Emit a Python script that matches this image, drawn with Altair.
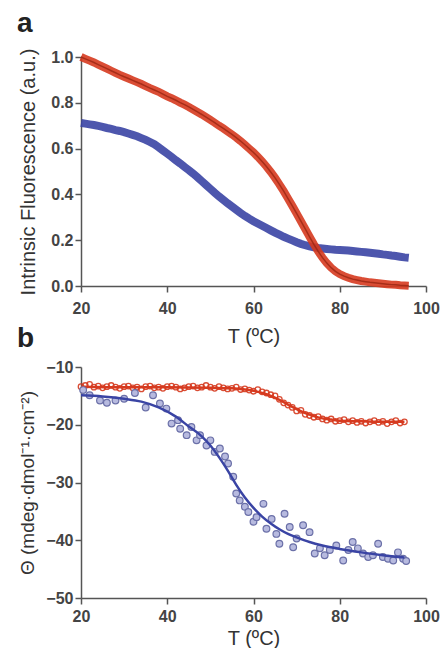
import altair as alt
import pandas as pd

# ---------------- Panel a: intrinsic fluorescence ----------------
temp_a = list(range(20, 97))
fluor_red = [1.000, 0.992, 0.984, 0.976, 0.967, 0.958, 0.949, 0.940, 0.931, 0.922,
             0.914, 0.906, 0.898, 0.890, 0.882, 0.873, 0.864, 0.856, 0.848, 0.838,
             0.828, 0.820, 0.811, 0.801, 0.792, 0.782, 0.771, 0.760, 0.749, 0.737,
             0.725, 0.713, 0.700, 0.688, 0.675, 0.662, 0.648, 0.633, 0.617, 0.600,
             0.583, 0.564, 0.544, 0.522, 0.498, 0.472, 0.444, 0.414, 0.382, 0.350,
             0.317, 0.283, 0.249, 0.215, 0.182, 0.151, 0.124, 0.100, 0.080, 0.064,
             0.052, 0.043, 0.036, 0.030, 0.026, 0.022, 0.019, 0.016, 0.014, 0.012,
             0.010, 0.008, 0.006, 0.005, 0.003, 0.002, 0.001]
fluor_blue = [0.712, 0.709, 0.706, 0.703, 0.699, 0.695, 0.690, 0.686, 0.681, 0.677,
              0.672, 0.666, 0.660, 0.654, 0.646, 0.638, 0.629, 0.619, 0.606, 0.592,
              0.578, 0.564, 0.549, 0.535, 0.520, 0.506, 0.491, 0.475, 0.458, 0.441,
              0.424, 0.407, 0.391, 0.376, 0.361, 0.347, 0.333, 0.319, 0.306, 0.294,
              0.283, 0.273, 0.263, 0.253, 0.243, 0.233, 0.224, 0.215, 0.207, 0.199,
              0.191, 0.184, 0.178, 0.173, 0.169, 0.166, 0.164, 0.162, 0.160, 0.158,
              0.157, 0.156, 0.155, 0.153, 0.151, 0.149, 0.147, 0.145, 0.143, 0.141,
              0.138, 0.136, 0.133, 0.131, 0.128, 0.125, 0.123]

# ---------------- Panel b: CD ellipticity ----------------
temp_b_red = list(range(20, 96))
cd_red = [-13.4, -13.2, -13.0, -13.5, -13.3, -13.6, -13.4, -13.2, -13.5, -13.7,
          -13.4, -13.3, -13.6, -13.5, -13.8, -13.4, -13.3, -13.6, -13.5, -13.7,
          -13.4, -13.3, -13.5, -13.8, -13.6, -13.4, -13.3, -13.6, -13.5, -13.2,
          -13.5, -13.7, -13.4, -13.6, -13.8, -13.7, -13.5, -13.9, -13.8, -14.0,
          -14.2, -13.9, -14.3, -14.5, -14.8, -15.0, -15.6, -16.2, -16.6, -17.0,
          -17.6, -17.5, -18.2, -18.4, -18.7, -18.6, -19.0, -19.2, -19.0, -19.4,
          -19.3, -19.1, -19.5, -19.3, -19.6, -19.4, -19.7, -19.5, -19.3, -19.6,
          -19.4, -19.8, -19.5, -19.3, -19.7, -19.5]
fit_red_t = [20, 30, 40, 50, 55, 58, 60, 62, 64, 66, 68, 70, 72, 74, 76, 78, 80, 85, 90, 95]
fit_red_v = [-13.4, -13.5, -13.5, -13.6, -13.7, -13.9, -14.1, -14.5, -15.0, -15.7,
             -16.5, -17.3, -18.0, -18.5, -18.9, -19.1, -19.3, -19.4, -19.5, -19.5]

temp_b_blue = [20.5, 22.0, 24.4, 26.0, 28.0, 30.0, 32.5, 35.0, 36.7, 38.3,
               39.8, 41.0, 42.5, 43.0, 44.5, 45.6, 46.8, 47.6, 49.1, 50.0,
               51.0, 52.2, 53.4, 54.1, 55.3, 56.0, 56.8, 58.0, 58.8, 60.0,
               60.7, 62.3, 63.0, 64.2, 65.3, 66.0, 67.2, 68.4, 69.2, 70.0,
               71.5, 73.0, 74.2, 75.4, 76.5, 77.7, 79.2, 80.8, 82.0, 83.0,
               84.2, 85.4, 86.6, 87.7, 88.9, 90.0, 91.2, 92.4, 93.5, 94.7, 95.4]
cd_blue = [-14.0, -14.9, -15.8, -16.2, -15.8, -15.5, -14.5, -17.0, -14.9, -16.3,
           -17.2, -19.8, -19.2, -20.7, -21.8, -20.4, -22.7, -21.8, -23.6, -22.7,
           -24.7, -24.1, -25.5, -26.7, -29.0, -31.9, -33.1, -34.2, -35.1, -36.8,
           -36.0, -33.7, -38.0, -36.3, -38.9, -40.6, -35.4, -37.7, -41.2, -39.7,
           -37.4, -38.6, -42.3, -41.4, -42.6, -41.7, -40.9, -43.5, -41.7, -40.3,
           -41.4, -42.3, -42.9, -42.6, -40.6, -42.9, -43.2, -43.5, -42.1, -43.2, -43.6]
fit_blue_t = [20, 25, 30, 34, 38, 42, 45, 48, 50, 52, 54, 56, 58, 60, 62, 64, 66,
              68, 70, 73, 76, 80, 85, 90, 95]
fit_blue_v = [-14.9, -15.1, -15.5, -16.0, -17.0, -18.6, -20.3, -22.0, -23.6, -25.6,
              -27.9, -30.4, -32.6, -34.4, -35.9, -37.1, -38.1, -38.9, -39.5, -40.3,
              -40.9, -41.5, -42.1, -42.6, -43.0]

x_ticks = [20, 40, 60, 80, 100]
ya_ticks = [0.0, 0.2, 0.4, 0.6, 0.8, 1.0]
yb_ticks = [-50, -40, -30, -20, -10]

RED = "#d63a1f"
RED_DARK = "#9a2612"
BLUE = "#3a44a4"
FONT = "Liberation Sans"

df_a = pd.DataFrame({"T": temp_a, "red": fluor_red, "blue": fluor_blue})
df_b_red = pd.DataFrame({"T": temp_b_red, "v": cd_red})
df_b_red_fit = pd.DataFrame({"T": fit_red_t, "v": fit_red_v})
df_b_blue = pd.DataFrame({"T": temp_b_blue, "v": cd_blue})
df_b_blue_fit = pd.DataFrame({"T": fit_blue_t, "v": fit_blue_v})

W = 345

def xenc(label_pad, title_pad):
    return alt.X("T:Q", scale=alt.Scale(domain=[20, 100], nice=False, zero=False),
                 axis=alt.Axis(values=x_ticks, title="T (ºC)", labelFlush=False,
                               labelPadding=label_pad, titlePadding=title_pad,
                               titleFontSize=20))

# Panel a
base_a = alt.Chart(df_a)
ya_axis = alt.Axis(values=ya_ticks, format=".1f", title="Intrinsic Fluorescence (a.u.)",
                   minExtent=31, maxExtent=31, titleFontSize=20, titlePadding=12)
ya_scale = alt.Scale(domain=[0, 1], nice=False, zero=False)
xa = xenc(8, 10)

blue_band = base_a.mark_line(color=BLUE, strokeWidth=8, opacity=0.9).encode(
    x=xa, y=alt.Y("blue:Q", scale=ya_scale, axis=ya_axis))
red_band = base_a.mark_line(color=RED, strokeWidth=8, opacity=0.9).encode(
    x=xa, y=alt.Y("red:Q", scale=ya_scale, axis=ya_axis))
red_fit = base_a.mark_line(color=RED_DARK, strokeWidth=1.5, opacity=0.8).encode(
    x=xa, y=alt.Y("red:Q", scale=ya_scale, axis=ya_axis))

letter_a = alt.Chart(pd.DataFrame({"t": ["a"]})).mark_text(
    font=FONT, fontSize=28, fontWeight="bold", align="left", baseline="alphabetic",
    color="#222").encode(text="t:N", x=alt.value(-64), y=alt.value(-25))
letter_b = alt.Chart(pd.DataFrame({"t": ["b"]})).mark_text(
    font=FONT, fontSize=28, fontWeight="bold", align="left", baseline="alphabetic",
    color="#222").encode(text="t:N", x=alt.value(-64), y=alt.value(290))

panel_a = alt.layer(blue_band, red_band, red_fit, letter_a, letter_b).properties(
    width=W, height=229)

# Panel b
yb_axis = alt.Axis(values=yb_ticks, format="d",
                   title="Θ  (mdeg·dmol⁻¹·cm⁻²)", minExtent=31, maxExtent=31,
                   titleFontSize=19, titlePadding=13)
yb_scale = alt.Scale(domain=[-50, -10], nice=False, zero=False)
xb = xenc(4, 4)

b_red_pts = alt.Chart(df_b_red).mark_point(
    shape="circle", size=30, filled=False, color=RED, strokeWidth=1.3, opacity=0.9).encode(
    x=xb, y=alt.Y("v:Q", scale=yb_scale, axis=yb_axis))
b_red_line = alt.Chart(df_b_red_fit).mark_line(
    color=RED, strokeWidth=2.5, interpolate="monotone").encode(
    x=xb, y=alt.Y("v:Q", scale=yb_scale, axis=yb_axis))
b_blue_pts = alt.Chart(df_b_blue).mark_point(
    shape="circle", size=45, filled=True, fill="#b7badf", stroke="#6b70a8",
    strokeWidth=1.2, opacity=1).encode(
    x=xb, y=alt.Y("v:Q", scale=yb_scale, axis=yb_axis))
b_blue_line = alt.Chart(df_b_blue_fit).mark_line(
    color=BLUE, strokeWidth=2.5, interpolate="monotone").encode(
    x=xb, y=alt.Y("v:Q", scale=yb_scale, axis=yb_axis))

panel_b = alt.layer(b_red_pts, b_red_line, b_blue_pts, b_blue_line).properties(
    width=W, height=231)

chart = alt.vconcat(panel_a, panel_b, spacing=6).properties(
    padding={"left": 17, "top": 10, "right": 0, "bottom": 0},
    background="white",
).configure_view(stroke=None).configure_axis(
    grid=False,
    domainColor="#555", domainWidth=1.5,
    tickColor="#555", tickWidth=1.5, tickSize=6,
    labelFont=FONT, labelFontSize=16, labelFontWeight="bold", labelColor="#444",
    titleFont=FONT, titleFontWeight="normal", titleColor="#333",
)

chart.save("out.html", embed_options={"renderer": "svg", "actions": False})
